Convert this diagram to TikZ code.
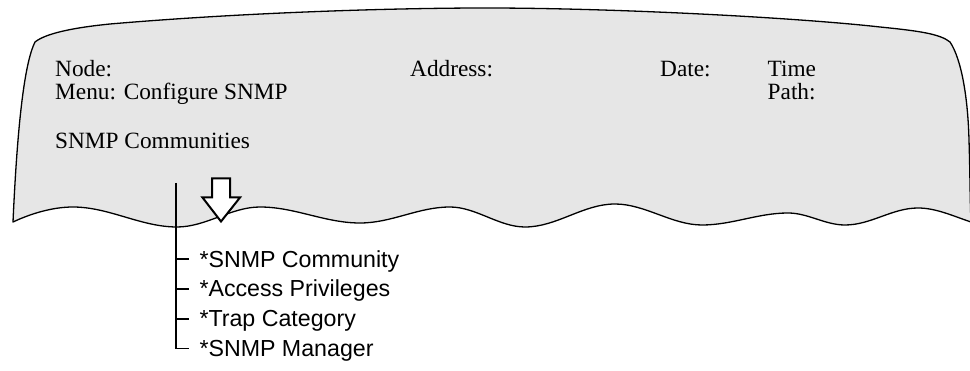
\documentclass[tikz,border=0pt]{standalone}
\usepackage{fontspec}
\setmainfont{Liberation Serif}
\newfontfamily\treesans{Liberation Sans}
\usetikzlibrary{calc}
\definecolor{screenfill}{RGB}{230,230,230}
\tikzset{
  screentext/.style={anchor=base west, inner sep=0pt, font=\fontsize{23.3}{28}\selectfont},
  menuitem/.style={anchor=base west, inner sep=0pt, font=\treesans\fontsize{23.2}{28}\selectfont},
  screenedge/.style={draw=black, line width=1.3pt, fill=screenfill, line join=round},
  tree/.style={draw=black, line width=1.7pt},
  downarrow/.style={draw=black, line width=2pt, fill=white, line join=miter}
}
\begin{document}
\begin{tikzpicture}[x=1pt, y=-1pt]
\useasboundingbox (0,0) rectangle (970,371);

% torn screen panel: curved top and sides, wavy bottom edge
\path[screenedge]
  (13,222) .. controls (18,110) and (26,60) .. (35,42)
  .. controls (45,34) and (70,28) .. (110,24)
  .. controls (250,12) and (400,8) .. (485,8)
  .. controls (620,8) and (800,18) .. (880,27)
  .. controls (920,31) and (940,34) .. (950,42)
  .. controls (962,60) and (968,100) .. (969,140)
  .. controls (970,170) and (970,200) .. (971,222)
  .. controls (953,216) and (936,208) .. (918,208)
  .. controls (892,208) and (871,225) .. (845,225)
  .. controls (825,225) and (808,213) .. (788,213)
  .. controls (758,213) and (732,225) .. (702,225)
  .. controls (672,225) and (645,204) .. (615,204)
  .. controls (583,204) and (557,227) .. (525,227)
  .. controls (499,227) and (476,207) .. (450,207)
  .. controls (418,207) and (392,223) .. (360,223)
  .. controls (325,223) and (295,207) .. (260,207)
  .. controls (231,207) and (206,227) .. (177,227)
  .. controls (141,227) and (109,207) .. (73,207)
  .. controls (52,207) and (30,214) .. (13,222)
  -- cycle;

% header fields
\node[screentext] (node)  at (55,76.5)   {Node:};
\node[screentext] (menu)  at (55,100)    {Menu: Configure SNMP};
\node[screentext] (title) at (55,148.3)  {SNMP Communities};
\node[screentext] (addr)  at (410,76.5)  {Address:};
\node[screentext] (date)  at (660,76.5)  {Date:};
\node[screentext] (time)  at (767.5,76.5){Time};
\node[screentext] (path)  at (767.5,100) {Path:};

% outlined down arrow
\path[downarrow] (212,178.5) -- (230,178.5) -- (230,197.5) -- (240,197.5)
  -- (221,221.5) -- (202.5,197.5) -- (212,197.5) -- cycle;

% menu items
\node[menuitem] (s1) at (199.3,267.3) {*SNMP Community};
\node[menuitem] (s2) at (199.3,297)   {*Access Privileges};
\node[menuitem] (s3) at (199.3,326.7) {*Trap Category};
\node[menuitem] (s4) at (199.3,356.4) {*SNMP Manager};

% tree connectors
\coordinate (trunktop) at (175.7,183);
\foreach \k in {1,2,3,4}
  \coordinate (e\k) at ($(s\k.base west)+(-10pt,8pt)$);
\draw[tree] (trunktop) |- (e4);
\foreach \k in {1,2,3}
  \draw[tree] (trunktop |- e\k) -- (e\k);
\end{tikzpicture}
\end{document}
